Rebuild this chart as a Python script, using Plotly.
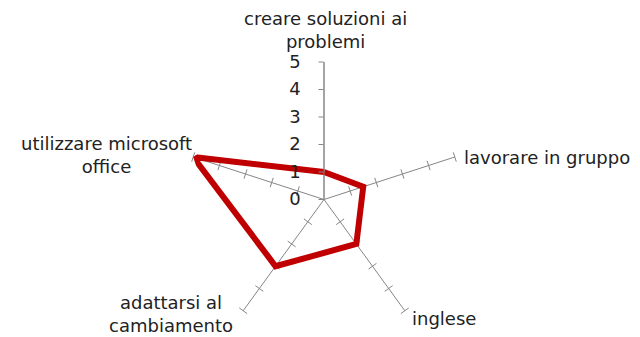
import plotly.graph_objects as go

# categories (clockwise from the top) and scores
categorie = [
    "creare soluzioni ai<br>problemi",
    "lavorare in gruppo",
    "inglese",
    "adattarsi al<br>cambiamento",
    "utilizzare microsoft<br>office",
]
punteggi = [1, 1.5, 2, 3, 5]
scala = [0, 1, 2, 3, 4, 5]

GREY = "#868686"
RED = "#C00000"
FONT = "DejaVu Sans"
W, H = 640, 337
M = dict(l=90, r=82, t=62, b=0)

fig = go.Figure()

# small tick marks on the spokes (the radial axis draws its own on the top one)
n = len(categorie)
for i, cat in enumerate(categorie[1:], start=1):
    fig.add_trace(go.Scatterpolar(
        r=scala[1:],
        theta=[cat] * (len(scala) - 1),
        mode="markers",
        marker=dict(symbol="line-ew", size=7, angle=360 / n * i,
                    line=dict(color=GREY, width=1)),
        hoverinfo="skip",
        showlegend=False,
    ))

# the series
fig.add_trace(go.Scatterpolar(
    r=punteggi + punteggi[:1],
    theta=categorie + categorie[:1],
    mode="lines",
    line=dict(color=RED, width=6),
    showlegend=False,
))

# category labels placed like the original (pixel position, anchors)
label_pos = [
    (325, 30, "center", "middle"),
    (462, 157, "left", "middle"),
    (410, 318, "left", "middle"),
    (171, 314, "center", "middle"),
    (106, 155, "center", "middle"),
]
pw = W - M["l"] - M["r"]
ph = H - M["t"] - M["b"]
for cat, (px, py, xa, ya) in zip(categorie, label_pos):
    fig.add_annotation(
        x=(px - M["l"]) / pw, y=1 - (py - M["t"]) / ph,
        xref="paper", yref="paper",
        text=cat, showarrow=False, xanchor=xa, yanchor=ya,
        font=dict(size=18), align="center",
    )

fig.update_layout(
    width=W, height=H,
    margin=M,
    paper_bgcolor="white",
    plot_bgcolor="white",
    font=dict(family=FONT, size=18, color="#222222"),
    polar=dict(
        bgcolor="white",
        gridshape="linear",
        radialaxis=dict(
            range=[0, 5], dtick=1, angle=90, tickangle=90,
            side="counterclockwise", ticksuffix="\u00a0\u00a0",
            showline=True, linecolor=GREY, linewidth=1,
            showgrid=False, ticks="outside", ticklen=5, tickcolor=GREY,
            tickfont=dict(size=18),
        ),
        angularaxis=dict(
            direction="clockwise", rotation=90,
            categoryorder="array", categoryarray=categorie,
            showline=False, showgrid=True, gridcolor=GREY, gridwidth=1,
            ticks="", showticklabels=False,
        ),
    ),
)

# drop the default page margin so the figure sits at the window's corner
fig.write_html("out.html", config={"displayModeBar": False},
               post_script="document.body.style.margin='0px';")
